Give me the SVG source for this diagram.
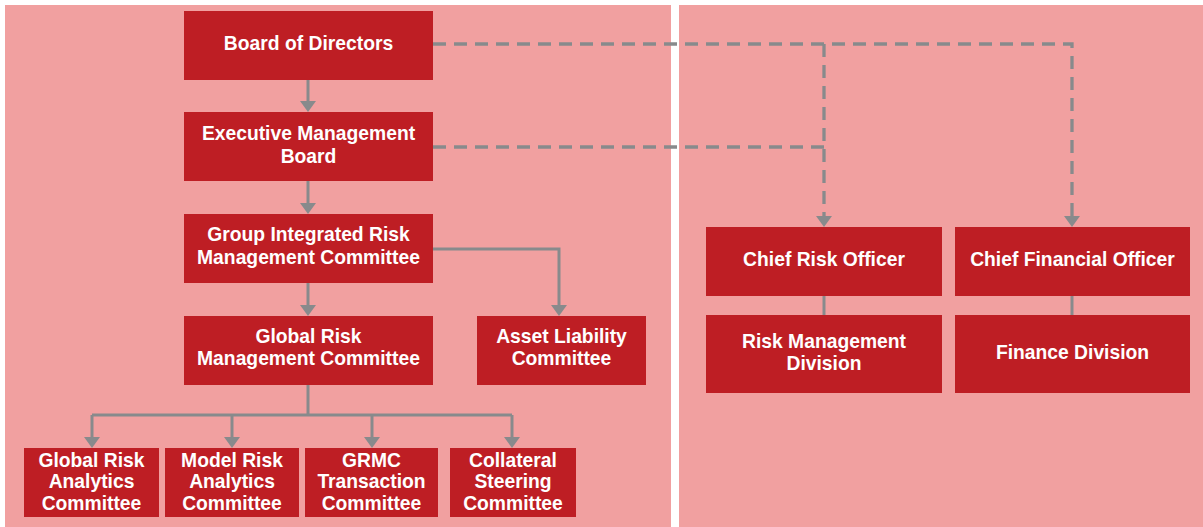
<svg xmlns="http://www.w3.org/2000/svg" width="1203" height="527" viewBox="0 0 1203 527">
  <style>
    .panel { fill: #f1a0a0; }
    .box { fill: #be1e24; }
    .label { fill: #ffffff; font-family: "Liberation Sans", Arial, sans-serif; font-weight: bold; font-size: 19.3px; text-anchor: middle; }
    .link { fill: none; stroke: #888a8c; stroke-width: 3; }
    .dashed { fill: none; stroke: #888a8c; stroke-width: 3.3; stroke-dasharray: 13 8; }
  </style>
  <defs>
    <marker id="arrow" markerUnits="userSpaceOnUse" markerWidth="11" markerHeight="16" refX="0" refY="8" orient="auto">
      <path d="M0,0 L11,8 L0,16 Z" fill="#888a8c" stroke="none"/>
    </marker>
  </defs>

  <rect width="1203" height="527" fill="#ffffff"/>
  <!-- governance panel and management panel -->
  <rect class="panel" x="5" y="5" width="666" height="522"/>
  <rect class="panel" x="679" y="5" width="524" height="522"/>

  <g id="connectors">
    <!-- solid reporting lines -->
    <path class="link" d="M308,80 V101" marker-end="url(#arrow)"/>
    <path class="link" d="M308,181 V203" marker-end="url(#arrow)"/>
    <path class="link" d="M308,283 V305" marker-end="url(#arrow)"/>
    <path class="link" d="M433,249 H559 V305" marker-end="url(#arrow)"/>
    <path class="link" d="M308,385 V415"/>
    <path class="link" d="M92,415 H512"/>
    <path class="link" d="M92,415 V437" marker-end="url(#arrow)"/>
    <path class="link" d="M232,415 V437" marker-end="url(#arrow)"/>
    <path class="link" d="M372,415 V437" marker-end="url(#arrow)"/>
    <path class="link" d="M512,415 V437" marker-end="url(#arrow)"/>
    <path class="link" d="M824,296 V315"/>
    <path class="link" d="M1072,296 V315"/>
    <!-- dashed oversight lines -->
    <path class="dashed" d="M433,44 H1072 V216" marker-end="url(#arrow)"/>
    <path class="dashed" d="M824,44 V216" marker-end="url(#arrow)"/>
    <path class="dashed" d="M433,147 H824"/>
  </g>

  <g id="board-of-directors">
    <rect class="box" x="184" y="11" width="249" height="69"/>
    <text class="label" x="308.5" y="50">Board of Directors</text>
  </g>
  <g id="executive-management-board">
    <rect class="box" x="184" y="112" width="249" height="69"/>
    <text class="label" x="308.5" y="140">Executive Management</text>
    <text class="label" x="308.5" y="163">Board</text>
  </g>
  <g id="group-integrated-risk-management-committee">
    <rect class="box" x="184" y="214" width="249" height="69"/>
    <text class="label" x="308.5" y="241">Group Integrated Risk</text>
    <text class="label" x="308.5" y="264">Management Committee</text>
  </g>
  <g id="global-risk-management-committee">
    <rect class="box" x="184" y="316" width="249" height="69"/>
    <text class="label" x="308.5" y="342.5">Global Risk</text>
    <text class="label" x="308.5" y="365">Management Committee</text>
  </g>
  <g id="asset-liability-committee">
    <rect class="box" x="477" y="316" width="169" height="69"/>
    <text class="label" x="561.5" y="342.5">Asset Liability</text>
    <text class="label" x="561.5" y="365">Committee</text>
  </g>

  <g id="global-risk-analytics-committee">
    <rect class="box" x="24" y="448" width="135" height="69"/>
    <text class="label" x="91.5" y="467">Global Risk</text>
    <text class="label" x="91.5" y="488.3">Analytics</text>
    <text class="label" x="91.5" y="509.5">Committee</text>
  </g>
  <g id="model-risk-analytics-committee">
    <rect class="box" x="165" y="448" width="134" height="69"/>
    <text class="label" x="232" y="467">Model Risk</text>
    <text class="label" x="232" y="488.3">Analytics</text>
    <text class="label" x="232" y="509.5">Committee</text>
  </g>
  <g id="grmc-transaction-committee">
    <rect class="box" x="305" y="448" width="133" height="69"/>
    <text class="label" x="371.5" y="467">GRMC</text>
    <text class="label" x="371.5" y="488.3">Transaction</text>
    <text class="label" x="371.5" y="509.5">Committee</text>
  </g>
  <g id="collateral-steering-committee">
    <rect class="box" x="450" y="448" width="126" height="69"/>
    <text class="label" x="513" y="467">Collateral</text>
    <text class="label" x="513" y="488.3">Steering</text>
    <text class="label" x="513" y="509.5">Committee</text>
  </g>

  <g id="chief-risk-officer">
    <rect class="box" x="706" y="227" width="236" height="69"/>
    <text class="label" x="824" y="266">Chief Risk Officer</text>
  </g>
  <g id="chief-financial-officer">
    <rect class="box" x="955" y="227" width="235" height="69"/>
    <text class="label" x="1072.5" y="266">Chief Financial Officer</text>
  </g>
  <g id="risk-management-division">
    <rect class="box" x="706" y="315" width="236" height="78"/>
    <text class="label" x="824" y="348">Risk Management</text>
    <text class="label" x="824" y="370">Division</text>
  </g>
  <g id="finance-division">
    <rect class="box" x="955" y="315" width="235" height="78"/>
    <text class="label" x="1072.5" y="359">Finance Division</text>
  </g>
</svg>
